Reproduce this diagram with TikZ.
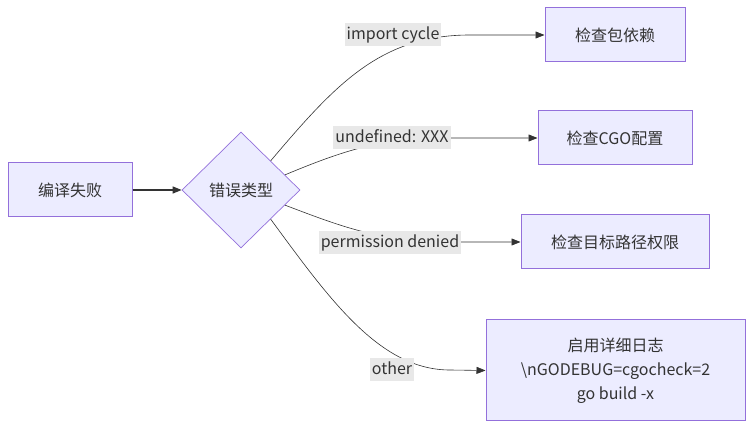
\documentclass[tikz,border=0pt]{standalone}
\usepackage{fontspec}
\setmainfont{Noto Sans CJK SC}
\usetikzlibrary{shapes.geometric,arrows.meta}
\definecolor{boxfill}{HTML}{ECECFF}
\definecolor{boxline}{HTML}{9370DB}
\definecolor{edgeline}{HTML}{333333}
\definecolor{labelbg}{HTML}{E8E8E8}
\begin{document}
\begin{tikzpicture}[x=1pt, y=-1pt,
		every node/.style={font=\fontsize{16}{24}\selectfont, text=edgeline},
		box/.style={draw=boxline, fill=boxfill, line width=1pt, inner sep=0pt, align=center},
		choice/.style={diamond, draw=boxline, fill=boxfill, line width=0.7pt, inner sep=0pt, minimum width=118pt, minimum height=116pt},
		edgelabel/.style={fill=labelbg, inner sep=2pt, text height=14pt, text depth=5pt},
		link/.style={draw=edgeline, line width=0.6pt, -{Triangle[length=9pt,width=7pt]}}]
				\useasboundingbox (0,0) rectangle (753,430);

				% Start and decision
				\node[box, minimum width=124pt, minimum height=54pt] (fail) at (70,190) {编译失败};
				\node[choice] (kind) at (241,190) {错误类型};

				% Checks
				\node[box, minimum width=140pt, minimum height=54pt] (deps) at (615,35) {检查包依赖};
				\node[box, minimum width=154pt, minimum height=54pt] (cgo) at (615,138) {检查CGO配置};
				\node[box, minimum width=188pt, minimum height=54pt] (perm) at (615,242) {检查目标路径权限};
				\node[box, minimum width=259pt, minimum height=101pt] (verbose) at (615.5,370.5) {启用详细日志\\\textbackslash nGODEBUG=cgocheck=2\\go build -x};

				% Edges
				\draw[link, line width=1.2pt] (fail) -- (kind);
				\draw[link] (kind.north east) .. controls (335,85) and (380,35) .. (470,35) -- (deps.west);
				\draw[link] (kind.19) .. controls (340,152) and (380,138) .. (440,138) -- (cgo.west);
				\draw[link] (kind.-19) .. controls (340,226) and (380,242) .. (450,242) -- (perm.west);
				\draw[link] (kind.south east) .. controls (330,300) and (380,370) .. (450,370) -- (verbose.west);

				% Edge labels
				\node[edgelabel] (l1) at (393,35) {import cycle};
				\node[edgelabel] (l2) at (392,138) {undefined: XXX};
				\node[edgelabel] (l3) at (390,243) {permission denied};
				\node[edgelabel] (l4) at (392,370) {other};
			\end{tikzpicture}
\end{document}
